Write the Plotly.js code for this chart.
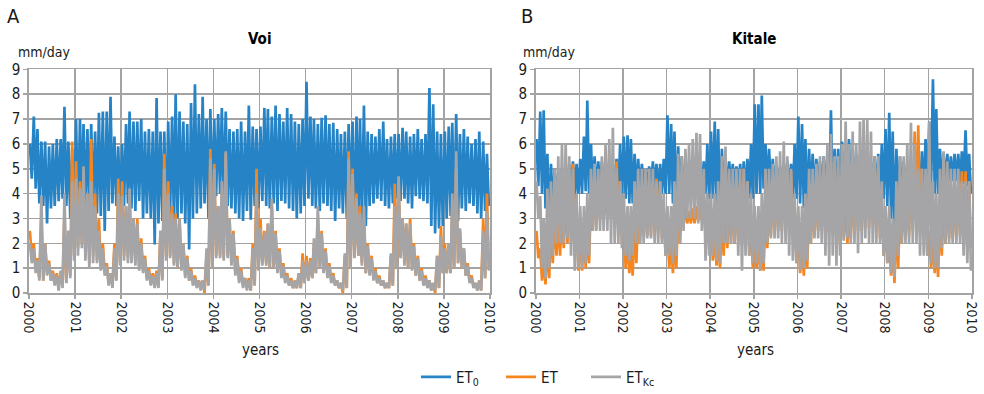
<!DOCTYPE html>
<html>
<head>
<meta charset="utf-8">
<script src="https://cdn.plot.ly/plotly-3.0.1.min.js"></script>
<style>
html,body{margin:0;padding:0;background:#fff;}
#chart{width:984px;height:394px;}
</style>
</head>
<body>
<div id="chart"></div>
<script>
// Years covered (monthly envelope values: month max "Hi" and month min "Lo")
const years = [2000, 2001, 2002, 2003, 2004, 2005, 2006, 2007, 2008, 2009];
const tickYears = ['2000','2001','2002','2003','2004','2005','2006','2007','2008','2009','2010'];
const seriesNames = ['ET<sub>0</sub>', 'ET', 'ET<sub>Kc</sub>'];

// ---------- Voi ----------
const voiET0Hi = [
 6.0,7.1,6.6,6.1,6.1,5.9,6.0,6.2,6.2,7.5,6.1,5.8,
 7.0,7.0,6.8,6.6,6.8,6.5,7.25,7.3,7.3,7.9,6.3,5.9,
 6.0,6.8,7.3,6.9,6.9,7.0,6.5,6.6,6.5,7.85,6.5,6.5,
 6.9,7.1,8.0,7.3,6.9,6.8,7.65,8.4,7.2,7.9,7.0,7.4,
 7.0,7.2,7.45,7.3,6.6,6.5,6.6,6.9,6.5,7.55,6.7,6.6,
 6.7,7.45,7.4,7.1,7.55,7.2,6.9,7.45,7.2,6.9,6.8,7.0,
 8.5,7.1,7.0,6.8,7.05,7.15,6.8,6.85,6.6,6.4,6.5,6.8,
 6.9,7.1,7.0,7.55,6.5,6.4,6.3,6.6,6.9,6.2,6.3,6.4,
 6.4,6.65,6.5,6.3,6.4,6.6,6.2,6.4,8.25,7.6,6.5,6.4,
 6.5,6.7,6.85,7.2,6.4,6.6,6.3,6.0,6.2,6.5,6.1,5.6
];
const voiET0Lo = [
 4.6,4.2,3.6,3.5,2.8,3.4,3.5,3.7,3.8,3.5,3.0,2.9,
 2.8,3.4,3.5,3.2,3.4,3.2,3.1,2.5,3.3,3.6,3.5,3.4,
 3.5,3.6,3.4,3.3,3.7,3.0,3.2,3.0,1.95,2.8,2.9,2.6,
 3.2,2.6,3.0,3.2,2.8,1.75,3.0,3.2,3.4,3.6,3.0,3.6,
 3.9,4.0,3.8,3.5,3.4,3.2,3.0,2.9,3.3,2.95,3.5,3.4,
 3.7,3.5,3.4,3.6,3.3,3.7,3.6,3.4,3.3,3.0,3.2,3.5,
 3.8,3.5,3.4,3.3,3.6,3.5,3.3,2.9,3.4,3.2,3.0,3.5,
 2.6,3.0,2.8,2.7,3.5,3.6,3.8,3.7,3.5,3.4,3.6,3.8,
 3.7,3.8,3.6,3.4,3.9,3.8,3.7,3.6,2.7,2.4,2.6,2.7,
 3.0,3.1,2.6,2.9,3.4,3.3,3.6,3.5,3.2,3.0,3.3,3.5
];
const voiETHi = [
 2.5,2.0,1.4,3.0,2.0,1.3,0.9,0.8,0.8,3.2,2.5,6.1,
 5.3,4.5,4.8,4.0,6.2,4.0,3.0,2.0,1.2,0.8,2.0,4.6,
 4.5,3.5,3.8,3.0,3.0,2.2,1.5,1.0,0.8,0.9,2.5,5.6,
 4.5,3.5,3.2,3.0,2.0,1.5,1.0,0.7,0.5,0.5,1.5,5.8,
 5.2,3.5,4.0,5.6,3.0,2.5,1.5,1.0,0.6,0.6,2.0,5.0,
 3.0,2.5,2.8,3.5,2.5,1.8,1.2,0.8,0.6,0.5,0.8,1.6,
 1.5,1.4,2.0,3.0,2.5,1.8,1.2,0.8,0.5,0.4,1.5,5.7,
 5.0,4.0,3.5,3.0,2.0,1.5,1.0,0.7,0.5,0.4,1.5,4.4,
 4.5,3.0,2.8,3.0,2.0,1.5,1.0,0.7,0.5,0.4,1.5,2.7,
 2.0,2.0,3.5,5.0,2.5,1.8,1.2,0.7,0.4,0.5,3.0,4.0
];
const voiETLo = [
 1.5,1.0,0.6,0.5,0.8,0.5,0.4,0.3,0.3,0.4,0.7,1.5,
 1.8,2.0,1.5,1.2,1.5,1.3,1.0,0.8,0.4,0.3,0.5,1.2,
 1.5,1.4,1.3,1.2,1.0,0.9,0.6,0.4,0.3,0.3,0.6,1.5,
 1.5,1.2,1.0,1.0,0.7,0.5,0.4,0.3,0.2,0.0,0.3,1.0,
 1.5,1.5,1.4,1.5,1.2,0.8,0.5,0.3,0.2,0.1,0.3,1.0,
 1.2,1.2,1.0,1.0,0.9,0.7,0.5,0.3,0.2,0.2,0.2,0.4,
 0.5,0.6,0.8,1.0,0.9,0.7,0.5,0.3,0.2,0.0,0.2,1.0,
 1.5,1.5,1.2,0.8,0.8,0.6,0.4,0.3,0.2,0.2,0.3,1.0,
 1.5,1.2,1.0,1.0,0.7,0.5,0.4,0.3,0.1,0.0,0.2,0.8,
 0.8,0.8,1.0,1.2,1.0,0.7,0.5,0.3,0.1,0.1,0.6,1.0
];
const voiETKcHi = [
 2.0,1.8,1.3,3.9,2.0,1.2,0.8,0.7,0.9,4.0,2.5,4.5,
 4.6,4.2,5.1,4.0,4.5,3.5,2.5,1.8,1.1,0.8,1.8,4.0,
 3.9,3.5,4.2,3.0,2.8,2.0,1.4,0.9,0.7,0.8,2.5,5.0,
 4.0,3.2,3.0,3.0,2.0,1.4,0.9,0.6,0.5,0.5,1.8,5.4,
 5.0,3.5,4.5,5.7,3.0,2.4,1.4,0.9,0.6,0.5,1.8,4.0,
 2.6,2.4,2.8,3.8,2.4,1.7,1.1,0.7,0.5,0.5,0.8,1.3,
 1.3,1.3,2.2,3.5,2.4,1.7,1.1,0.7,0.5,0.4,1.6,5.4,
 4.8,3.8,3.2,3.5,1.9,1.4,0.9,0.6,0.5,0.4,1.6,3.5,
 4.7,3.0,2.8,2.8,1.9,1.4,0.9,0.6,0.5,0.4,1.5,2.3,
 1.8,2.0,4.0,5.7,2.6,1.8,1.1,0.6,0.4,0.5,2.5,3.3
];
const voiETKcLo = [
 1.2,0.8,0.5,0.5,0.7,0.5,0.3,0.1,0.2,0.4,0.6,1.3,
 1.5,1.8,1.3,1.0,1.2,1.2,0.9,0.7,0.3,0.2,0.5,1.1,
 1.3,1.2,1.2,1.1,0.9,0.8,0.5,0.3,0.2,0.2,0.5,1.3,
 1.4,1.1,1.0,0.9,0.6,0.5,0.3,0.2,0.1,0.1,0.3,1.0,
 1.4,1.4,1.3,1.4,1.1,0.7,0.4,0.2,0.1,0.1,0.3,0.9,
 1.1,1.1,1.0,1.0,0.8,0.6,0.4,0.3,0.2,0.2,0.2,0.4,
 0.5,0.6,0.8,1.0,0.8,0.6,0.4,0.3,0.2,0.1,0.2,1.0,
 1.4,1.5,1.1,0.8,0.7,0.5,0.4,0.3,0.2,0.2,0.3,1.0,
 1.4,1.1,1.0,0.9,0.7,0.5,0.3,0.2,0.1,0.1,0.2,0.8,
 0.8,0.8,1.0,1.2,1.0,0.7,0.4,0.2,0.1,0.1,0.6,0.9
];

// ---------- Kitale ----------
const kitET0Hi = [
 6.2,7.3,7.35,5.6,5.2,5.0,4.8,5.0,5.1,5.2,5.3,5.2,
 5.4,6.3,7.75,6.0,5.5,5.3,5.3,5.2,5.3,5.2,5.4,6.0,
 6.3,6.35,6.2,5.6,5.4,5.2,5.0,5.1,5.3,5.2,5.2,5.4,
 7.15,6.8,6.5,5.9,5.5,5.2,5.0,5.0,5.0,5.1,5.3,6.0,
 6.5,6.9,6.6,5.8,5.5,5.3,5.2,5.1,5.2,5.3,5.4,6.0,
 7.6,7.6,7.95,6.0,5.8,5.4,5.2,5.1,5.2,5.3,5.2,6.0,
 7.1,6.8,6.2,5.8,5.6,5.4,5.3,5.5,5.6,7.35,5.8,5.8,
 6.1,6.0,6.2,5.8,5.6,5.4,5.3,5.2,5.3,5.5,5.6,6.0,
 6.6,7.25,6.5,5.8,5.5,5.3,5.2,5.3,5.4,5.5,5.7,6.2,
 6.9,8.6,7.4,5.8,5.6,5.6,5.5,5.6,5.6,5.7,6.55,5.6
];
const kitET0Lo = [
 4.3,4.0,3.4,2.5,3.5,3.9,3.8,3.9,4.0,4.0,3.8,4.0,
 4.0,4.1,4.0,4.0,4.2,4.2,4.3,4.3,4.2,4.1,4.1,4.0,
 3.8,3.6,3.6,4.0,4.1,4.3,4.3,4.2,4.2,4.0,4.0,4.0,
 4.0,3.6,3.5,3.8,4.0,4.2,4.2,4.2,4.3,4.0,4.0,3.8,
 3.8,3.5,3.0,3.8,4.0,4.2,4.2,4.2,4.1,4.0,3.8,3.8,
 4.0,4.0,4.2,4.2,4.2,4.2,4.3,4.3,4.2,4.0,3.8,3.8,
 3.6,3.4,3.3,3.8,4.0,4.2,4.2,4.0,3.8,3.6,3.5,3.8,
 4.0,4.0,4.0,4.2,4.2,4.3,4.3,4.2,4.2,4.0,4.0,3.8,
 3.5,3.0,2.3,3.5,3.8,4.0,4.0,4.0,4.0,3.9,3.8,3.9,
 4.2,4.0,4.0,4.3,4.5,4.5,4.5,4.5,4.4,4.4,4.3,4.0
];
const kitETHi = [
 2.5,1.8,1.5,2.0,3.0,3.2,3.0,3.5,4.0,4.5,5.2,3.5,
 2.5,2.5,3.0,4.0,4.0,3.8,4.0,4.0,4.0,4.5,5.3,4.5,
 3.0,2.2,2.0,2.8,3.5,3.5,3.8,4.0,4.5,4.6,4.5,3.5,
 2.5,2.0,2.5,3.5,3.5,3.5,3.3,3.4,3.5,3.6,3.8,3.2,
 2.8,2.3,2.3,3.0,3.8,3.8,4.0,4.0,4.5,5.0,4.5,3.0,
 2.5,2.0,2.5,3.5,4.0,4.0,4.2,4.5,4.6,4.8,4.9,3.5,
 2.5,2.0,2.5,3.5,4.0,4.0,4.5,4.8,5.0,5.3,5.3,4.5,
 4.5,3.5,3.5,4.0,4.5,4.5,4.8,5.0,5.0,5.3,5.0,3.5,
 2.8,2.0,2.0,3.0,3.5,3.8,4.0,5.0,6.5,6.75,5.0,3.5,
 2.5,2.0,2.3,3.5,3.8,3.8,4.0,4.0,4.2,4.9,4.9,4.5
];
const kitETLo = [
 1.4,0.5,0.35,0.6,1.2,1.5,1.5,1.8,2.0,2.0,1.5,0.9,
 0.9,1.0,1.2,2.5,3.0,3.0,3.0,3.0,3.0,3.0,3.0,2.0,
 1.0,0.8,0.7,1.2,2.0,2.3,2.3,2.3,2.5,2.5,2.2,1.5,
 1.0,0.8,1.0,2.0,2.7,2.8,2.8,2.8,2.9,2.9,2.5,2.0,
 1.3,1.1,1.0,1.5,1.8,2.0,2.0,2.0,2.0,2.2,1.5,1.0,
 1.0,0.9,0.9,1.8,2.3,2.5,2.5,2.5,2.5,2.6,2.3,1.2,
 0.8,0.7,1.0,2.0,2.3,2.5,2.5,2.6,2.5,2.5,2.5,2.0,
 2.2,2.0,2.2,2.5,2.5,2.5,2.6,2.6,2.8,2.7,2.2,1.5,
 1.2,0.7,0.4,1.0,2.0,2.2,2.3,2.5,2.8,2.8,2.2,1.5,
 1.0,0.8,0.65,1.5,2.0,2.2,2.2,2.2,2.3,2.3,2.2,1.8
];
const kitETKcHi = [
 4.5,3.9,3.0,4.2,4.5,5.0,5.5,6.0,6.0,5.5,5.0,4.0,
 3.5,3.5,4.0,5.0,5.2,5.0,5.5,6.0,6.2,6.65,5.0,4.5,
 4.0,3.5,3.5,4.5,5.0,5.0,5.0,5.0,5.0,4.5,4.5,4.0,
 3.5,3.5,4.5,5.6,5.5,5.8,6.0,6.2,6.45,6.4,5.0,4.0,
 4.0,4.0,4.5,5.5,5.9,5.0,5.0,5.0,5.0,5.0,4.5,4.0,
 3.5,3.5,4.0,5.0,5.0,5.2,5.5,5.7,6.1,5.5,5.0,4.0,
 3.5,3.5,4.0,5.0,5.0,5.2,5.5,5.5,6.0,6.4,5.5,5.5,
 6.0,6.9,6.0,6.5,6.0,6.9,7.0,7.0,6.5,5.5,5.5,4.5,
 3.5,3.5,3.0,4.5,5.5,5.5,6.0,6.85,6.0,5.0,5.0,5.0,
 6.9,4.5,4.0,5.0,5.7,5.3,5.0,5.0,5.0,4.5,4.5,4.5
];
const kitETKcLo = [
 3.0,1.0,0.6,1.0,1.5,2.0,2.0,2.0,2.2,1.5,0.9,1.0,
 1.0,1.2,1.5,2.5,2.5,2.5,2.5,2.5,2.0,2.0,2.0,1.8,
 1.5,1.3,1.5,2.0,2.0,2.0,2.2,2.2,2.0,2.0,2.0,1.5,
 1.5,1.2,1.5,2.0,2.5,3.0,3.0,3.0,2.8,2.5,1.3,1.5,
 1.5,1.3,1.2,2.0,2.0,2.0,2.0,1.5,0.9,1.5,1.5,1.2,
 1.2,0.9,1.2,2.0,2.2,2.2,2.2,2.0,2.0,1.5,1.3,1.2,
 0.9,1.0,1.3,2.0,2.2,2.2,2.0,1.5,1.1,1.5,1.1,1.5,
 2.1,2.2,2.0,2.0,1.6,2.0,2.2,2.0,2.0,2.0,2.0,1.5,
 1.2,0.8,0.65,1.5,2.0,2.0,2.0,2.0,2.0,1.5,1.5,1.5,
 1.2,1.0,1.0,1.8,2.0,2.0,2.0,2.0,2.0,1.5,1.2,0.9
];

const colors = ['#2683c6', '#f5851f', '#a5a5a7'];

function envelope(hi, lo) {
  const x = [], y = [];
  for (let i = 0; i < hi.length; i++) {
    const yr = years[Math.floor(i / 12)];
    const mm = String(i % 12 + 1).padStart(2, '0');
    x.push(yr + '-' + mm + '-08'); y.push(hi[i]);
    x.push(yr + '-' + mm + '-23'); y.push(lo[i]);
  }
  return {x, y};
}

const panels = [
  {xa: 'x', ya: 'y', data: [[voiET0Hi, voiET0Lo], [voiETHi, voiETLo], [voiETKcHi, voiETKcLo]], legend: true},
  {xa: 'x2', ya: 'y2', data: [[kitET0Hi, kitET0Lo], [kitETHi, kitETLo], [kitETKcHi, kitETKcLo]], legend: false}
];

const traces = [];
panels.forEach(p => {
  p.data.forEach((pair, k) => {
    const e = envelope(pair[0], pair[1]);
    traces.push({
      type: 'scatter', mode: 'lines', x: e.x, y: e.y,
      xaxis: p.xa, yaxis: p.ya,
      name: seriesNames[k], legendgroup: 'g' + k, showlegend: p.legend,
      line: {color: colors[k], width: 2.7},
      hoverinfo: 'skip'
    });
  });
});

const FONT = 'DejaVu Sans Condensed, Liberation Sans Narrow, Roboto, sans-serif';
const gridC = '#a3a3a3';

function xAxis(domain, anchor) {
  return {
    domain: domain, anchor: anchor, type: 'date',
    range: ['2000-01-01', '2010-01-01'],
    tickvals: tickYears.map(t => t + '-01-01'), ticktext: tickYears,
    tickangle: 90, tickfont: {family: FONT, size: 14, color: '#1a1a1a'},
    showgrid: true, gridcolor: gridC, gridwidth: 1.6,
    showline: true, linecolor: gridC, linewidth: 1.6, mirror: true,
    ticks: 'outside', ticklen: 4, tickcolor: gridC, tickwidth: 1.6,
    zeroline: false, fixedrange: true
  };
}
function yAxis(anchor) {
  return {
    domain: [0.2525, 0.823], anchor: anchor,
    range: [0, 9], tickvals: [0,1,2,3,4,5,6,7,8,9],
    tickfont: {family: FONT, size: 15, color: '#1a1a1a'},
    showgrid: true, gridcolor: gridC, gridwidth: 1.6,
    showline: true, linecolor: gridC, linewidth: 1.6, mirror: true,
    ticks: 'outside', ticklen: 4, tickcolor: gridC, tickwidth: 1.6,
    zeroline: false, fixedrange: true
  };
}

function ann(text, xpx, ypx, opts) {
  return Object.assign({
    text: text, xref: 'paper', yref: 'paper',
    x: xpx / 984, y: 1 - ypx / 394,
    xanchor: 'center', yanchor: 'middle', showarrow: false,
    font: {family: FONT, size: 15, color: '#1a1a1a'}
  }, opts || {});
}

const layout = {
  width: 984, height: 394,
  margin: {l: 0, r: 0, t: 0, b: 0},
  paper_bgcolor: '#ffffff', plot_bgcolor: '#ffffff',
  showlegend: true,
  legend: {
    orientation: 'h', x: 416 / 984, y: 1 - 379 / 394,
    xanchor: 'left', yanchor: 'middle',
    font: {family: FONT, size: 15, color: '#1a1a1a'},
    entrywidth: 40, entrywidthmode: 'pixels',
    bgcolor: 'rgba(0,0,0,0)', itemclick: false
  },
  xaxis: xAxis([29 / 984, 490 / 984], 'y'),
  yaxis: yAxis('x'),
  xaxis2: xAxis([535.7 / 984, 972 / 984], 'y2'),
  yaxis2: yAxis('x2'),
  annotations: [
    ann('A', 13, 16, {font: {family: FONT, size: 20, color: '#1a1a1a'}}),
    ann('B', 527, 16, {font: {family: FONT, size: 20, color: '#1a1a1a'}}),
    ann('<b>Voi</b>', 260, 39, {font: {family: FONT, size: 15, color: '#000'}}),
    ann('<b>Kitale</b>', 754, 39, {font: {family: FONT, size: 15, color: '#000'}}),
    ann('mm/day', 16, 52, {xanchor: 'left', font: {family: FONT, size: 14, color: '#1a1a1a'}}),
    ann('mm/day', 521, 52, {xanchor: 'left', font: {family: FONT, size: 14, color: '#1a1a1a'}}),
    ann('years', 260, 352),
    ann('years', 755, 352)
  ]
};

Plotly.newPlot('chart', traces, layout, {displayModeBar: false, staticPlot: true});
</script>
</body>
</html>
